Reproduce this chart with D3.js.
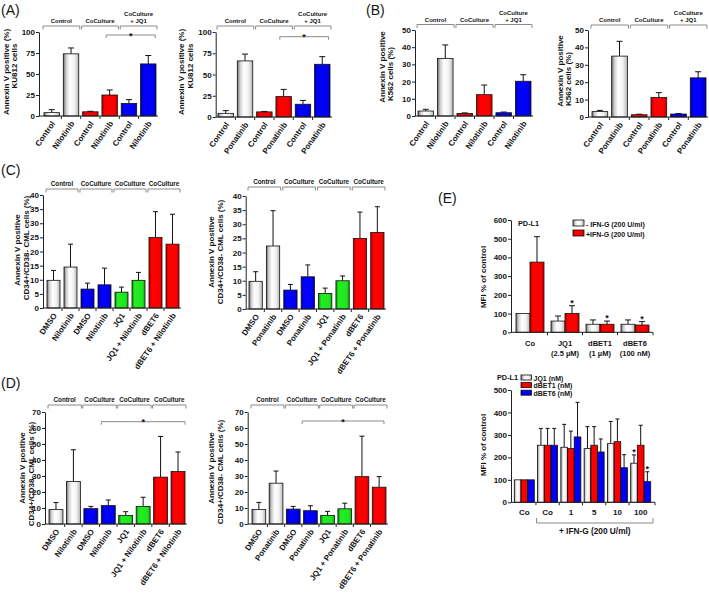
<!DOCTYPE html>
<html><head><meta charset="utf-8">
<script src="https://cdn.jsdelivr.net/npm/d3@7"></script>
<style>
body{margin:0;background:#fff;}
svg{display:block;font-family:"Liberation Sans",Arial,sans-serif;}
</style></head><body>
<svg id="chart" width="709" height="597"></svg>
<script>
// ---------- DATA ----------
const catsNilAB = ["Control","Nilotinib","Control","Nilotinib","Control","Nilotinib"];
const catsPonAB = ["Control","Ponatinib","Control","Ponatinib","Control","Ponatinib"];
const groupsAB = [["Control"],["CoCulture"],["CoCulture","+ JQ1"]];
const colorsAB = ["white","white","red","red","blue","blue"];
const A1_values = [4, 74, 5, 25, 15, 62];
const A1_errors = [3.5, 7, 0.6, 6, 4.5, 10];
const A2_values = [4.3, 66, 6, 24, 15, 62];
const A2_errors = [3.2, 8, 0.5, 8.5, 4.5, 9];
const B1_values = [2.9, 33.5, 1.5, 12.4, 1.9, 20.2];
const B1_errors = [1, 7.8, 0.3, 5.6, 0.4, 3.8];
const B2_values = [3.1, 35, 1.3, 11.2, 1.7, 22.5];
const B2_errors = [0.7, 8.5, 0.3, 2.8, 0.3, 3.5];

const catsNilCD = ["DMSO","Nilotinib","DMSO","Nilotinib","JQ1","JQ1 + Nilotinib","dBET6","dBET6 + Nilotinib"];
const catsPonCD = ["DMSO","Ponatinib","DMSO","Ponatinib","JQ1","JQ1 + Ponatinib","dBET6","dBET6 + Ponatinib"];
const groupsCD = [["Control"],["CoCulture"],["CoCulture"],["CoCulture"]];
const colorsCD = ["white","white","blue","blue","green","green","red","red"];
const C1_values = [9.8, 14.5, 6.7, 8.2, 5.6, 9.8, 25, 22.6];
const C1_errors = [3.5, 8.1, 2.1, 5.9, 1.8, 2.8, 9.1, 10.6];
const C2_values = [9.8, 22.3, 6.7, 11.4, 5.5, 10, 25, 27.1];
const C2_errors = [3.4, 12.5, 2, 4.2, 1.9, 1.7, 9.3, 9.1];
const D1_values = [9, 26.5, 9.6, 11.5, 5.4, 11, 29.3, 32.8];
const D1_errors = [4.4, 19.9, 1.4, 3.5, 2.3, 5.7, 25.4, 12.2];
const D2_values = [9.1, 25.5, 9.3, 8.3, 5.4, 9.5, 29.6, 23];
const D2_errors = [4.4, 7.6, 1.7, 3.1, 2.5, 3.5, 25.3, 6.6];

const E1_groups = [["Co"],["JQ1","(2.5 \u00b5M)"],["dBET1","(1 \u00b5M)"],["dBET6","(100 nM)"]];
const E1_seriesNames = ["- IFN-G (200 U/ml)","+IFN-G (200 U/ml)"];
const E1_minus = [100, 60, 43, 43];
const E1_minusErr = [0, 27, 23, 23];
const E1_plus = [375, 101, 43, 39];
const E1_plusErr = [136, 41, 17, 18];
const E1_plusStar = [false, true, true, true];

const E2_groups = ["Co","Co","1","5","10","100"];
const E2_seriesNames = ["JQ1 (nM)","dBET1 (nM)","dBET6 (nM)"];
const E2_JQ1 = [100, 254, 245, 239, 261, 174];
const E2_JQ1err = [0, 75, 102, 98, 99, 37];
const E2_JQ1star = [false,false,false,false,false,true];
const E2_dBET1 = [100, 254, 239, 254, 270, 254];
const E2_dBET1err = [0, 75, 78, 83, 101, 89];
const E2_dBET1star = [false,false,false,false,false,false];
const E2_dBET6 = [100, 254, 291, 224, 154, 92];
const E2_dBET6err = [0, 75, 154, 58, 58, 44];
const E2_dBET6star = [false,false,false,false,false,true];

// ---------- DRAWING ----------
const FONT = "'Liberation Sans', Arial, sans-serif";
const INK = "#141414";
const svg = d3.select("#chart");
const defs = svg.append("defs");
function grad(id, stops){
  const g = defs.append("linearGradient").attr("id", id).attr("x1",0).attr("x2",1).attr("y1",0).attr("y2",0);
  stops.forEach(([o,c]) => g.append("stop").attr("offset", o).attr("stop-color", c));
}
grad("gWhite", [[0,"#6a6a6a"],[0.18,"#cfcfcf"],[0.42,"#ffffff"],[0.72,"#f2f2f2"],[1,"#b4b4b4"]]);
grad("gRed",   [[0,"#b00000"],[0.2,"#ff0000"],[0.8,"#fb0000"],[1,"#c40000"]]);
grad("gBlue",  [[0,"#00009a"],[0.2,"#0000ff"],[0.8,"#0000f4"],[1,"#0000b0"]]);
grad("gGreen", [[0,"#0c8c0c"],[0.2,"#22ee22"],[0.8,"#20e620"],[1,"#16a616"]]);
const FILL = {white:"url(#gWhite)", red:"url(#gRed)", blue:"url(#gBlue)", green:"url(#gGreen)"};

function txt(g, x, y, s, size, opts={}){
  return g.append("text").attr("x", x).attr("y", y).text(s)
    .attr("font-size", size).attr("font-family", FONT)
    .attr("font-weight", opts.weight || "bold")
    .attr("text-anchor", opts.anchor || "middle")
    .attr("fill", INK);
}

function yAxis(g, y, ax, max, step){
  const a = d3.axisLeft(y).tickValues(d3.range(0, max + 1e-6, step)).tickSize(3).tickSizeOuter(0).tickPadding(1);
  const ag = g.append("g").attr("transform", `translate(${ax},0)`).call(a);
  ag.attr("font-family", FONT).attr("font-size", 8).attr("font-weight", "bold");
  ag.select(".domain").attr("stroke", "#222");
  ag.selectAll(".tick line").attr("stroke", "#222");
  ag.selectAll(".tick text").attr("fill", INK);
}

function yLabels(g, lines, size){
  lines.forEach(l => {
    g.append("text").attr("transform", `translate(${l.x},${l.cy}) rotate(-90)`)
      .attr("dy", "0.35em").attr("text-anchor", "middle")
      .attr("font-size", size || 8).attr("font-weight", "bold").attr("font-family", FONT)
      .attr("fill", INK).text(l.t);
  });
}

function errBar(g, cx, yTop, yVal, half){
  g.append("line").attr("x1", cx).attr("x2", cx).attr("y1", yVal).attr("y2", yTop).attr("stroke", "#111").attr("stroke-width", 1);
  g.append("line").attr("x1", cx - half).attr("x2", cx + half).attr("y1", yTop).attr("y2", yTop).attr("stroke", "#111").attr("stroke-width", 1);
}

function simplePanel(c){
  const g = svg.append("g");
  const y = d3.scaleLinear().domain([0, c.max]).range([c.y0, c.yTop]);
  const x = d3.scaleBand().domain(d3.range(c.cats.length)).range([c.left, c.right]).paddingInner(c.pad).paddingOuter(0);
  const bw = x.bandwidth();
  c.values.forEach((v, i) => {
    errBar(g, x(i) + bw/2, y(v + c.errors[i]), y(v), c.cap || 3);
  });
  c.values.forEach((v, i) => {
    g.append("rect").attr("x", x(i)).attr("y", y(v)).attr("width", bw).attr("height", c.y0 - y(v))
      .attr("fill", FILL[c.colors[i]]).attr("stroke", "#111").attr("stroke-width", 0.8);
  });
  yAxis(g, y, c.ax, c.max, c.step);
  g.append("line").attr("x1", c.ax).attr("x2", c.axEnd).attr("y1", c.y0).attr("y2", c.y0).attr("stroke", "#222");
  for (let i = 0; i < c.cats.length - 1; i++){
    const tx = (x(i) + bw + x(i+1)) / 2;
    g.append("line").attr("x1", tx).attr("x2", tx).attr("y1", c.y0).attr("y2", c.y0 + 3).attr("stroke", "#222");
  }
  c.cats.forEach((s, i) => {
    g.append("text").attr("transform", `translate(${x(i) + bw/2 + 1.5},${c.y0 + 6}) rotate(-55)`)
      .attr("dy", "0.35em").attr("text-anchor", "end").attr("font-size", 8).attr("font-weight", "bold")
      .attr("font-family", FONT).attr("fill", INK).text(s);
  });
  c.groups.forEach((lines, k) => {
    const a = x(2*k) - 1, b = x(2*k+1) + bw + 1, by = c.bracketY;
    g.append("path").attr("d", `M${a},${by+3.5}V${by}H${b}V${by+3.5}`).attr("fill", "none").attr("stroke", "#8a8a8a").attr("stroke-width", 1);
    lines.forEach((t, j) => {
      txt(g, (a+b)/2, by - 3 - (lines.length - 1 - j) * 6.8, t, c.gFont || 6);
    });
  });
  if (c.sig){
    const s = c.sig;
    const a = x(s.from) + bw * s.f0, b = x(s.to) + bw * s.f1;
    g.append("path").attr("d", `M${a},${s.y+3}V${s.y}H${b}V${s.y+3}`).attr("fill", "none").attr("stroke", "#8a8a8a").attr("stroke-width", 1);
    txt(g, (a+b)/2, s.y + 3.5, "*", 9);
  }
  yLabels(g, c.ylab, 8);
}

function groupedPanel(c){
  const g = svg.append("g");
  const y = d3.scaleLinear().domain([0, c.max]).range([c.y0, c.yTop]);
  const x0 = d3.scaleBand().domain(d3.range(c.groups.length)).range([c.left, c.right]).paddingInner(c.pad).paddingOuter(0);
  const x1 = d3.scaleBand().domain(d3.range(c.series.length)).range([0, x0.bandwidth()]).padding(0);
  const bw = x1.bandwidth();
  c.series.forEach((s, k) => {
    s.vals.forEach((v, i) => {
      const cx = x0(i) + x1(k) + bw/2;
      if (s.errs[i] > 0) errBar(g, cx, y(v + s.errs[i]), y(v), c.cap);
      if (s.stars && s.stars[i]) txt(g, cx, y(v + s.errs[i]) + c.starOff, "*", 9);
    });
  });
  c.series.forEach((s, k) => {
    s.vals.forEach((v, i) => {
      g.append("rect").attr("x", x0(i) + x1(k)).attr("y", y(v)).attr("width", bw).attr("height", c.y0 - y(v))
        .attr("fill", FILL[s.color]).attr("stroke", "#111").attr("stroke-width", 0.8);
    });
  });
  yAxis(g, y, c.ax, c.max, c.step);
  g.append("line").attr("x1", c.ax).attr("x2", c.axEnd).attr("y1", c.y0).attr("y2", c.y0).attr("stroke", "#222");
  for (let i = 0; i < c.groups.length; i++){
    const tx = i < c.groups.length - 1 ? (x0(i) + x0.bandwidth() + x0(i+1)) / 2 : c.axEnd;
    g.append("line").attr("x1", tx).attr("x2", tx).attr("y1", c.y0).attr("y2", c.y0 + 3).attr("stroke", "#222");
  }
  c.groups.forEach((lines, i) => {
    const ls = Array.isArray(lines) ? lines : [lines];
    ls.forEach((t, j) => txt(g, x0(i) + x0.bandwidth()/2, c.labY + j * 10, t, c.labFont));
  });
  txt(g, c.title.x, c.title.y, "PD-L1", 7.3, {anchor: "start"});
  c.series.forEach((s, k) => {
    const ly = c.leg.y + k * c.leg.dy;
    g.append("rect").attr("x", c.leg.x).attr("y", ly).attr("width", c.leg.w).attr("height", c.leg.h)
      .attr("fill", FILL[s.color]).attr("stroke", "#111").attr("stroke-width", 0.8);
    txt(g, c.leg.x + c.leg.w + 2, ly + c.leg.h + 0.5, s.name, c.leg.font, {anchor: "start"});
  });
  yLabels(g, c.ylab, 8);
  if (c.under){
    const u = c.under;
    const a = x0(u.from) - 1, b = c.axEnd - 2;
    g.append("path").attr("d", `M${a},${u.y-5}V${u.y}H${b}V${u.y-5}`).attr("fill", "none").attr("stroke", "#8a8a8a").attr("stroke-width", 1);
    txt(g, (a+b)/2, u.y + 11, u.text, 8.3);
  }
}

[["(A)",1,15],["(B)",366,15],["(C)",1,175],["(D)",1,388],["(E)",438,203]].forEach(([t,x,yy]) =>
  txt(svg, x, yy, t, 14, {weight: "normal", anchor: "start"}));

simplePanel({cats: catsNilAB, values: A1_values, errors: A1_errors, colors: colorsAB, groups: groupsAB,
  ax: 39, y0: 116, yTop: 32, max: 100, step: 25, left: 44, right: 156, pad: 0.2, axEnd: 158, bracketY: 26,
  sig: {from: 3, to: 5, f0: 0.27, f1: 0.95, y: 35},
  ylab: [{t: "Annexin V positive (%)", x: 6, cy: 72}, {t: "KU812 cells", x: 14.5, cy: 66}]});
simplePanel({cats: catsPonAB, values: A2_values, errors: A2_errors, colors: colorsAB, groups: groupsAB,
  ax: 215.7, y0: 117, yTop: 32, max: 100, step: 25, left: 218, right: 330, pad: 0.2, axEnd: 332, bracketY: 26,
  sig: {from: 3, to: 5, f0: 0.25, f1: 0.9, y: 36.7},
  ylab: [{t: "Annexin V positive (%)", x: 181, cy: 72}, {t: "KU812 cells", x: 190, cy: 66}]});
simplePanel({cats: catsNilAB, values: B1_values, errors: B1_errors, colors: colorsAB, groups: groupsAB,
  ax: 415, y0: 116, yTop: 30, max: 50, step: 10, left: 418, right: 531, pad: 0.2, axEnd: 533, bracketY: 24.5,
  ylab: [{t: "Annexin V positive", x: 382, cy: 67}, {t: "K562 cells (%)", x: 390.5, cy: 74}]});
simplePanel({cats: catsPonAB, values: B2_values, errors: B2_errors, colors: colorsAB, groups: groupsAB,
  ax: 588, y0: 117, yTop: 30, max: 50, step: 10, left: 592, right: 706, pad: 0.2, axEnd: 708, bracketY: 25,
  ylab: [{t: "Annexin V positive", x: 560, cy: 71}, {t: "K562 cells (%)", x: 568.5, cy: 79}]});

simplePanel({cats: catsNilCD, values: C1_values, errors: C1_errors, colors: colorsCD, groups: groupsCD, gFont: 6.3,
  ax: 43, y0: 308, yTop: 195, max: 40, step: 5, left: 47, right: 179, pad: 0.235, axEnd: 181, bracketY: 189, cap: 2.5,
  ylab: [{t: "Annexin V positive", x: 17.5, cy: 250}, {t: "CD34+/CD38- CML cells (%)", x: 26.5, cy: 248}]});
simplePanel({cats: catsPonCD, values: C2_values, errors: C2_errors, colors: colorsCD, groups: groupsCD, gFont: 6.3,
  ax: 245.7, y0: 309, yTop: 196, max: 40, step: 5, left: 249, right: 384, pad: 0.235, axEnd: 386, bracketY: 187, cap: 2.5,
  ylab: [{t: "Annexin V positive", x: 211.5, cy: 252}, {t: "CD34+/CD38- CML cells (%)", x: 220, cy: 252}]});
simplePanel({cats: catsNilCD, values: D1_values, errors: D1_errors, colors: colorsCD, groups: groupsCD, gFont: 6.3,
  ax: 45, y0: 524, yTop: 412, max: 70, step: 10, left: 49, right: 185, pad: 0.2, axEnd: 187, bracketY: 405, cap: 2.5,
  sig: {from: 3, to: 7, f0: 0, f1: 1, y: 421.7},
  ylab: [{t: "Annexin V positive", x: 22.5, cy: 468}, {t: "CD34+/CD38- CML cells (%)", x: 31.5, cy: 474}]});
simplePanel({cats: catsPonCD, values: D2_values, errors: D2_errors, colors: colorsCD, groups: groupsCD, gFont: 6.3,
  ax: 247.7, y0: 524, yTop: 412, max: 70, step: 10, left: 252, right: 386, pad: 0.2, axEnd: 388, bracketY: 405, cap: 2.5,
  sig: {from: 3, to: 7, f0: -0.1, f1: 0.85, y: 421},
  ylab: [{t: "Annexin V positive", x: 211.5, cy: 468}, {t: "CD34+/CD38- CML cells (%)", x: 220, cy: 472}]});

groupedPanel({groups: E1_groups,
  series: [{name: E1_seriesNames[0], vals: E1_minus, errs: E1_minusErr, color: "white"},
           {name: E1_seriesNames[1], vals: E1_plus, errs: E1_plusErr, color: "red", stars: E1_plusStar}],
  ax: 511, y0: 332.3, yTop: 220, max: 600, step: 100, left: 516, right: 649, pad: 0.2, axEnd: 653, cap: 3, starOff: 0,
  labY: 345.5, labFont: 7.5, title: {x: 518, y: 226},
  leg: {x: 573, y: 220, dy: 10, w: 11, h: 6, font: 7},
  ylab: [{t: "MFI % of control", x: 483.5, cy: 277}]});
groupedPanel({groups: E2_groups,
  series: [{name: E2_seriesNames[0], vals: E2_JQ1, errs: E2_JQ1err, color: "white", stars: E2_JQ1star},
           {name: E2_seriesNames[1], vals: E2_dBET1, errs: E2_dBET1err, color: "red", stars: E2_dBET1star},
           {name: E2_seriesNames[2], vals: E2_dBET6, errs: E2_dBET6err, color: "blue", stars: E2_dBET6star}],
  ax: 511, y0: 502.3, yTop: 390, max: 500, step: 100, left: 514.3, right: 650.7, pad: 0.14, axEnd: 655, cap: 2, starOff: 0,
  labY: 515, labFont: 8, title: {x: 497, y: 380},
  leg: {x: 521, y: 375, dy: 7.6, w: 10.5, h: 5, font: 7},
  under: {from: 1, y: 523, text: "+ IFN-G (200 U/ml)"},
  ylab: [{t: "MFI % of control", x: 483.5, cy: 445}]});
</script>
</body></html>
